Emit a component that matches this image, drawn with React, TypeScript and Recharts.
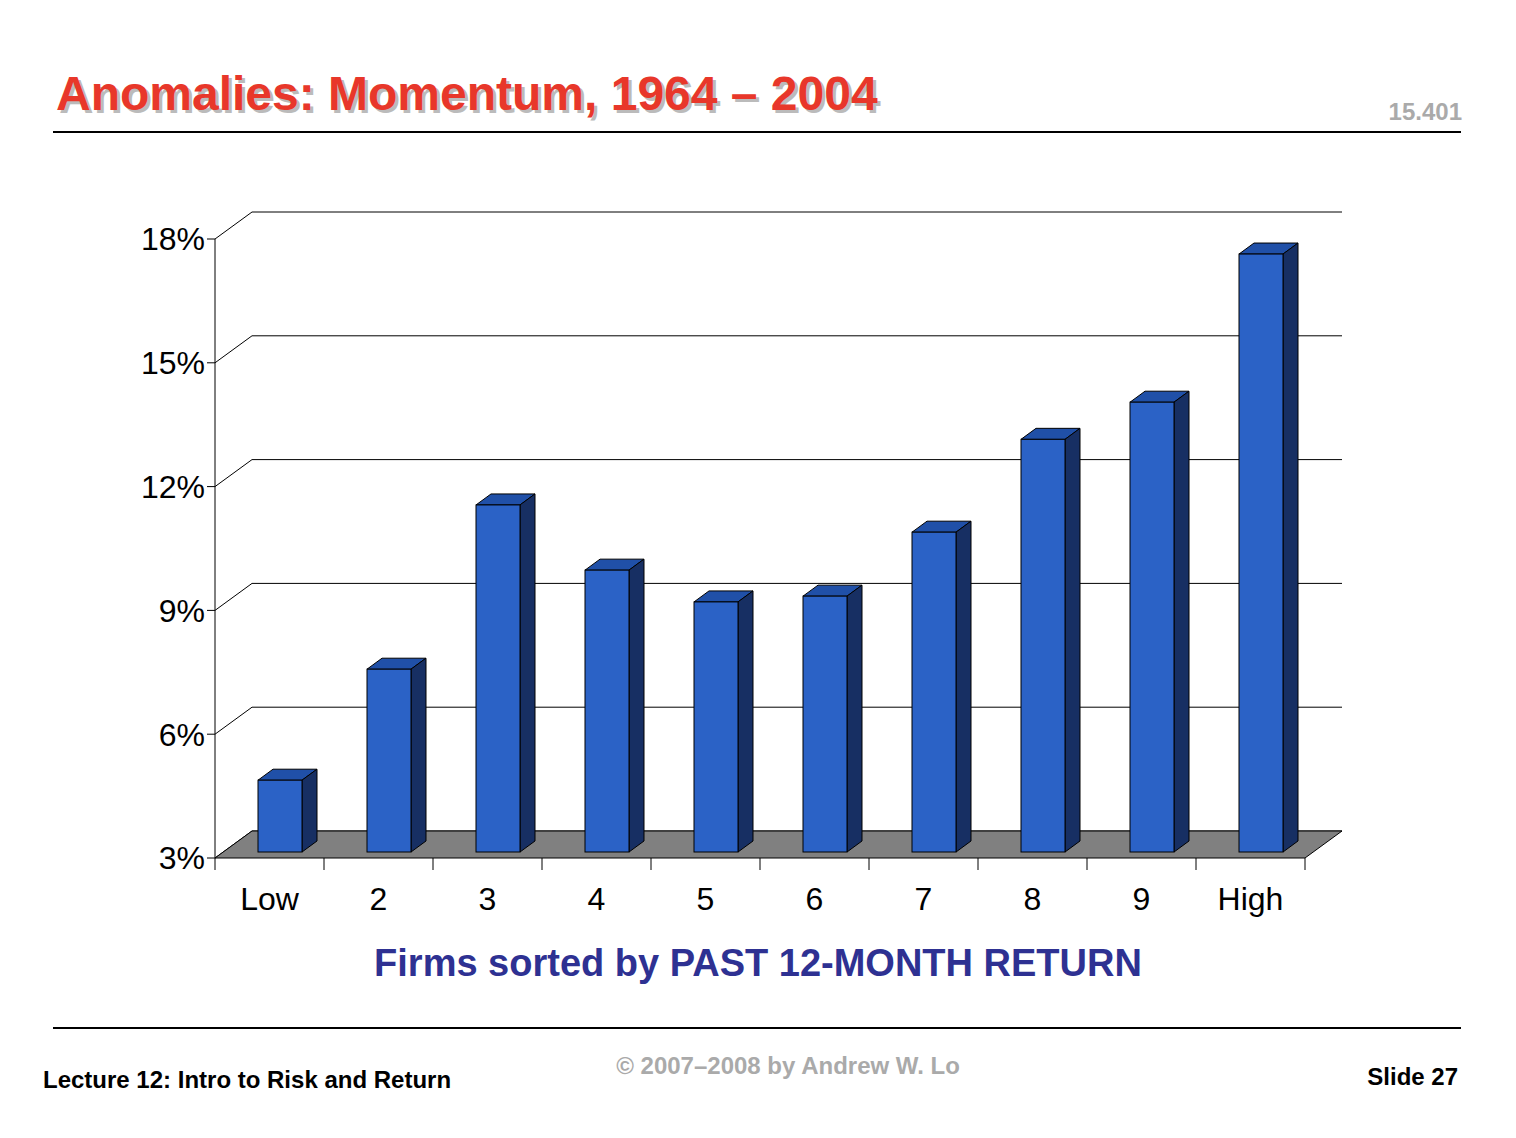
import { BarChart, Bar, XAxis, YAxis, CartesianGrid, ReferenceArea } from "recharts";

const categories = ["Low", "2", "3", "4", "5", "6", "7", "8", "9", "High"];
const returns = [4.74, 7.43, 11.41, 9.83, 9.06, 9.2, 10.75, 13.0, 13.9, 17.49];
const yTicks = [3, 6, 9, 12, 15, 18];

const data = categories.map((name, i) => ({ name, value: returns[i] }));

const DX = 37;
const DY = -27;
const font = "'Liberation Sans', Arial, sans-serif";

function Bar3D(props: any) {
  const { x, y, width, height } = props;
  const fx = x + 10;
  const fy = y - 6;
  const d = 15;
  const dz = -11;
  const b = fy + height;
  return (
    <g stroke="#000" strokeWidth={1}>
      <polygon points={`${fx},${fy} ${fx + d},${fy + dz} ${fx + width + d},${fy + dz} ${fx + width},${fy}`} fill="#2050a8" />
      <polygon points={`${fx + width},${fy} ${fx + width + d},${fy + dz} ${fx + width + d},${b + dz} ${fx + width},${b}`} fill="#172f63" />
      <rect x={fx} y={fy} width={width} height={height} fill="#2b62c6" />
    </g>
  );
}

function Floor(props: any) {
  const { x, y, width, height } = props;
  const b = y + height;
  return (
    <polygon
      points={`${x},${b} ${x + width},${b} ${x + width + DX},${b + DY} ${x + DX},${b + DY}`}
      fill="#808080"
      stroke="#000"
    />
  );
}

function GridLine(props: any) {
  const { x1, y1, x2, y2 } = props;
  return (
    <g stroke="#000" strokeWidth={1}>
      <line x1={x1 + DX} y1={y1 + DY} x2={x2 + DX} y2={y2 + DY} />
      <line x1={x1} y1={y1} x2={x1 + DX} y2={y1 + DY} />
    </g>
  );
}

function XTick(props: any) {
  const { x, y, payload, index } = props;
  const slot = 109;
  return (
    <g>
      <line x1={x - slot / 2} y1={y - 8} x2={x - slot / 2} y2={y + 4} stroke="#000" />
      {index === categories.length - 1 && (
        <line x1={x + slot / 2} y1={y - 8} x2={x + slot / 2} y2={y + 4} stroke="#000" />
      )}
      <text x={x} y={y + 44} textAnchor="middle" fontSize={32} fontFamily={font} fill="#000">
        {payload.value}
      </text>
    </g>
  );
}

export default function App() {
  return (
    <div style={{ position: "absolute", left: 0, top: 0, width: 1516, height: 1138, background: "#fff", fontFamily: font }}>
      <div
        style={{
          position: "absolute", left: 56, top: 66, fontSize: 48, fontWeight: "bold", color: "#e8372a",
          textShadow: "3px 3px 0 #bbb",
        }}
      >
        Anomalies: Momentum, 1964 – 2004
      </div>
      <div style={{ position: "absolute", right: 54, top: 98, fontSize: 24, fontWeight: "bold", color: "#aaa" }}>15.401</div>
      <div style={{ position: "absolute", left: 53, top: 131, width: 1408, height: 2, background: "#000" }} />

      <div style={{ position: "absolute", left: 0, top: 0 }}>
        <BarChart width={1516} height={1000} data={data} margin={{ top: 239, right: 211, left: 0, bottom: 102 }} barSize={44}>
          <CartesianGrid vertical={false} horizontal={(p: any) => <GridLine key={p.key} {...p} />} />
          <ReferenceArea y1={3} y2={3.3} ifOverflow="visible" shape={(p: any) => <Floor {...p} />} />
          <XAxis dataKey="name" height={40} axisLine={false} tickLine={false} tick={(p: any) => <XTick {...p} />} interval={0} />
          <YAxis
            domain={[3, 18]}
            ticks={yTicks}
            width={215}
            tickFormatter={(v) => `${v}%`}
            tick={{ fill: "#000", fontSize: 32, fontFamily: font }}
            axisLine={{ stroke: "#000" }}
            tickLine={{ stroke: "#000" }}
            tickSize={8}
          />
          <Bar dataKey="value" isAnimationActive={false} shape={(p: any) => <Bar3D {...p} />} />
        </BarChart>
      </div>

      <div style={{ position: "absolute", left: 0, width: 1516, top: 942, textAlign: "center", fontSize: 38, fontWeight: "bold", color: "#2e3192" }}>
        Firms sorted by PAST 12-MONTH RETURN
      </div>
      <div style={{ position: "absolute", left: 53, top: 1027, width: 1408, height: 2, background: "#000" }} />
      <div style={{ position: "absolute", left: 43, top: 1066, fontSize: 24, fontWeight: "bold" }}>Lecture 12: Intro to Risk and Return</div>
      <div style={{ position: "absolute", left: 0, width: 1576, top: 1052, textAlign: "center", fontSize: 24, fontWeight: "bold", color: "#aaa" }}>
        © 2007–2008 by Andrew W. Lo
      </div>
      <div style={{ position: "absolute", right: 58, top: 1063, fontSize: 24, fontWeight: "bold" }}>Slide 27</div>
    </div>
  );
}
